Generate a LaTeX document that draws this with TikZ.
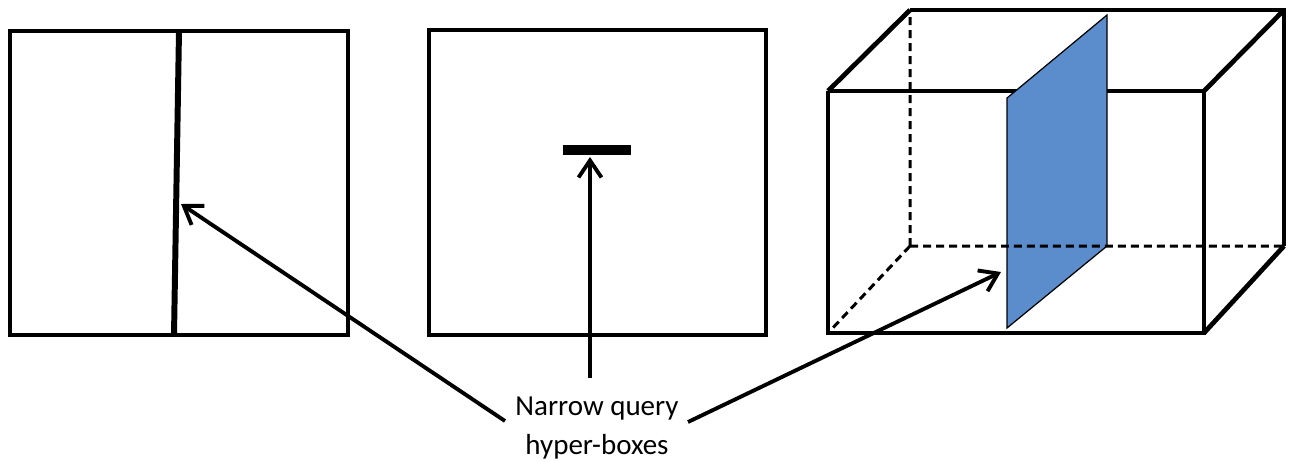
\documentclass[tikz,border=0pt]{standalone}
\usepackage{fontspec}
\setmainfont{Carlito}
\usetikzlibrary{arrows.meta}
\definecolor{planeblue}{RGB}{91,140,204}

\begin{document}
\begin{tikzpicture}[x=0.02cm,y=-0.02cm]

	\tikzstyle box lines=[line width=2.7pt, line join=miter];
	\tikzstyle hidden lines=[line width=1.7pt, dash pattern=on 0.16cm off 0.1cm];
	\tikzstyle query lines=[line width=3.4pt];
	\tikzstyle pointer lines=[line width=2.2pt, -{Straight Barb[length=3.4mm,width=4.6mm]}];

	\useasboundingbox (0,0) rectangle (1294,461);

	% one dimension: a thin slab across the box
	\draw[box lines] (10,31) rectangle (348,335);
	\draw[query lines] (179,31) -- (174,335);
	\coordinate (slab) at (181,204);

	% two dimensions: a flat bar
	\draw[box lines] (429,30) rectangle (766,335);
	\fill (563,145) rectangle (631,155);
	\coordinate (bar) at (590,157);

	% three dimensions: a plane through the cube
	\coordinate (ftl) at (828,91);   \coordinate (ftr) at (1204,91);
	\coordinate (fbr) at (1204,333); \coordinate (fbl) at (828,333);
	\coordinate (btl) at (910,10);   \coordinate (btr) at (1284,10);
	\coordinate (bbr) at (1284,246); \coordinate (bbl) at (910,246);

	\draw[box lines] (ftl) -- (ftr);
	\filldraw[fill=planeblue, line width=0.7pt] (1007,98) -- (1107,15) -- (1107,246) -- (1007,328) -- cycle;
	\coordinate (plane) at (1001,272);

	\draw[hidden lines] (bbl) -- (btl) (bbl) -- (bbr) (bbl) -- (fbl);
	\draw[box lines] (ftr) -- (fbr) -- (fbl) -- (ftl);
	\draw[box lines] (btl) -- (btr) -- (bbr);
	\foreach \f/\b in {ftl/btl, ftr/btr, fbr/bbr}
		\draw[box lines] (\f) -- (\b);

	% label and its pointers
	\node[font=\fontsize{16.5}{22}\selectfont, align=center, inner sep=0pt] (label) at (597,428) {Narrow query\\hyper-boxes};
	\coordinate (from slab) at (505,421);
	\coordinate (from bar) at (590,378);
	\coordinate (from plane) at (688,422);

	\draw[pointer lines] (from slab) -- (slab);
	\draw[pointer lines] (from bar) -- (bar);
	\draw[pointer lines] (from plane) -- (plane);

\end{tikzpicture}
\end{document}
